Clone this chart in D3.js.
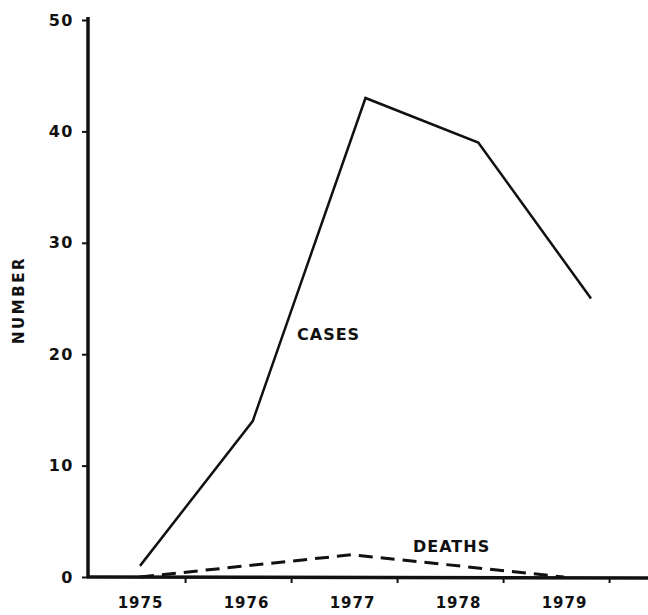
<!DOCTYPE html>
<html>
<head>
<meta charset="utf-8">
<script src="https://cdn.jsdelivr.net/npm/d3@7"></script>
<style>
  body { margin: 0; background: #fff; }
  text { font-family: "DejaVu Sans", sans-serif; font-weight: bold; fill: #111; }
</style>
</head>
<body>
<div id="chart"></div>
<script>
// data
const years = [1975, 1976, 1977, 1978, 1979]
const cases = [1, 14, 43, 39, 25]
const deaths = [0, 1, 2, 1, 0]
const yTicks = [0, 10, 20, 30, 40, 50]

const width = 648
const height = 615

const svg = d3.select('#chart').append('svg')
  .attr('width', width).attr('height', height)

// y scale
const y = d3.scaleLinear().domain([0, 50]).range([577, 20])

// the scan is a bit stretched: cases points sit wider than the year labels
const xCases = d3.scaleLinear().domain([1975, 1979]).range([140, 591])
const xYear = d3.scaleLinear().domain([1975, 1979]).range([140, 564])

// y axis
const yAxis = d3.axisLeft(y).tickValues(yTicks).tickSize(6).tickPadding(8)
const gy = svg.append('g').attr('transform', 'translate(88,0)').call(yAxis)
gy.select('.domain').remove()
gy.selectAll('.tick line').attr('stroke', '#111').attr('stroke-width', 2)
gy.selectAll('.tick text').attr('font-size', 16).style('letter-spacing', '1.5px')
svg.append('line')
  .attr('x1', 88).attr('x2', 88).attr('y1', 17).attr('y2', 578)
  .attr('stroke', '#111').attr('stroke-width', 3.5)

// x axis: labels under each year, small ticks in between
const xAxis = d3.axisBottom(xYear).tickValues(years).tickSize(0).tickPadding(20)
  .tickFormat(d3.format('d'))
const gx = svg.append('g').attr('transform', 'translate(0,577)').call(xAxis)
gx.select('.domain').remove()
gx.selectAll('.tick text').attr('font-size', 15).style('letter-spacing', '1px')

svg.selectAll('.xminor').data(years)
  .enter().append('line')
  .attr('class', 'xminor')
  .attr('x1', d => xYear(d + 0.43)).attr('x2', d => xYear(d + 0.43))
  .attr('y1', 577).attr('y2', 583)
  .attr('stroke', '#111').attr('stroke-width', 2)

svg.append('line')
  .attr('x1', 87).attr('x2', width).attr('y1', 577).attr('y2', 578)
  .attr('stroke', '#111').attr('stroke-width', 3.5)

// axis title
svg.append('text')
  .attr('transform', 'translate(24,300) rotate(-90)')
  .attr('text-anchor', 'middle')
  .attr('font-size', 15)
  .style('letter-spacing', '2.5px')
  .text('NUMBER')

// cases line
const casesLine = d3.line().x((d, i) => xCases(years[i])).y(d => y(d))
svg.append('path').datum(cases)
  .attr('d', casesLine)
  .attr('fill', 'none').attr('stroke', '#111').attr('stroke-width', 2.5)

// deaths line, dashed
const deathsLine = d3.line().x((d, i) => xYear(years[i])).y(d => y(d))
svg.append('path').datum(deaths)
  .attr('d', deathsLine)
  .attr('fill', 'none').attr('stroke', '#111').attr('stroke-width', 3)
  .attr('stroke-dasharray', '14,8')

// labels
svg.append('text').attr('x', 297).attr('y', 340)
  .attr('font-size', 16).style('letter-spacing', '1px').text('CASES')
svg.append('text').attr('x', 413).attr('y', 552)
  .attr('font-size', 16).style('letter-spacing', '1px').text('DEATHS')
</script>
</body>
</html>
